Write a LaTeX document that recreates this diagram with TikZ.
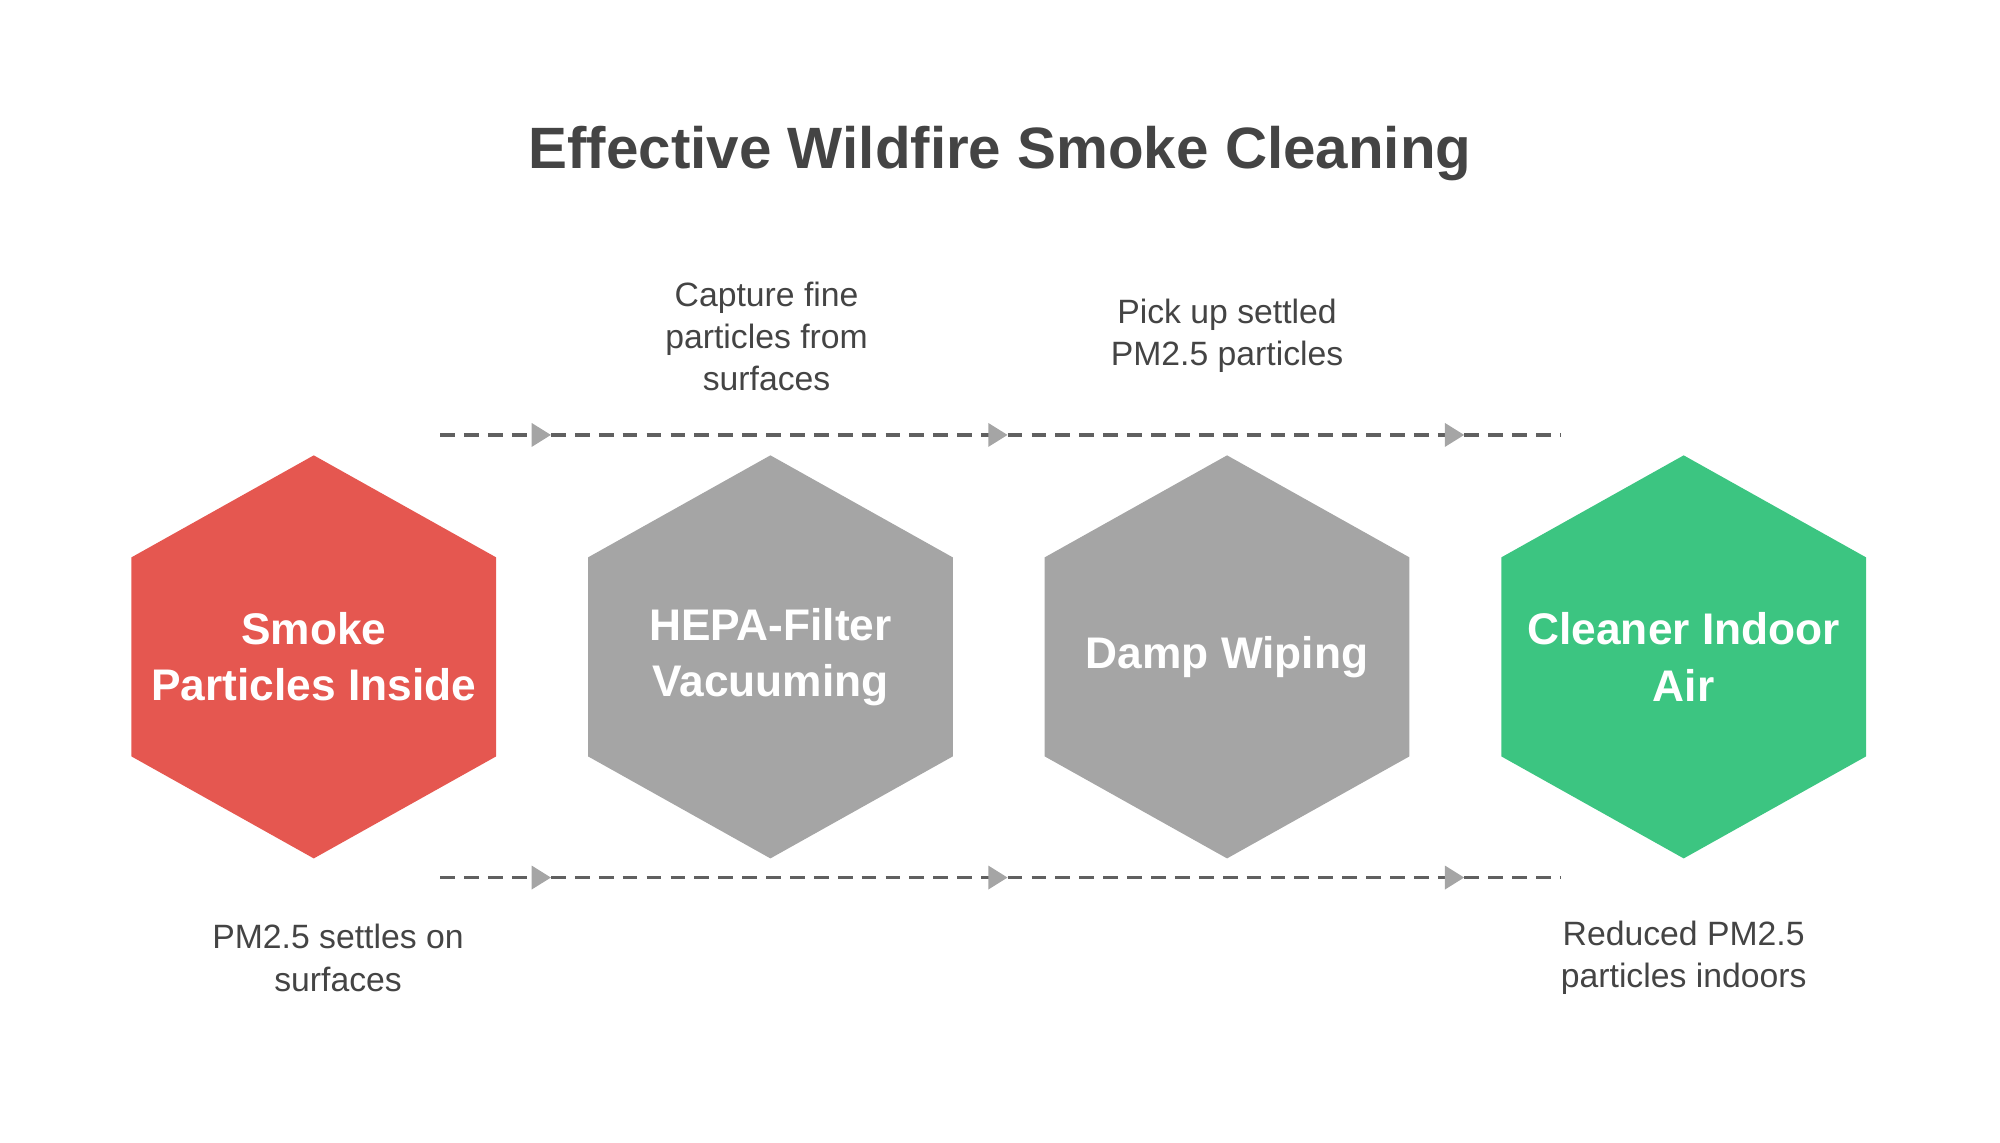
\documentclass[tikz,border=0pt]{standalone}
\usepackage{fontspec}
\setmainfont{Liberation Sans}
\usetikzlibrary{calc,arrows.meta}
\definecolor{smokered}{HTML}{E55750}
\definecolor{stepgray}{HTML}{A5A5A5}
\definecolor{cleangreen}{HTML}{3CC581}
\definecolor{txt}{HTML}{444444}
\tikzset{>=Stealth,
  hexa/.style={draw=none},
  hextext/.style={text=white,font=\bfseries\fontsize{12.6}{16}\selectfont,align=center},
  note/.style={text=txt,font=\fontsize{9.6}{12}\selectfont,align=center},
  flow/.style={draw=txt!85,line width=1.1pt,dash pattern=on 4.2pt off 2.6pt,
    -{Triangle[length=5.5pt,width=6.5pt,color=stepgray]}}}

\begin{document}
\begin{tikzpicture}[x=0.012755cm,y=-0.012755cm]
\useasboundingbox (0,0) rectangle (1568,896);
\node[text=txt,font=\bfseries\fontsize{16.6}{20}\selectfont] (title) at (784,120)
  {Effective Wildfire Smoke Cleaning};
% hexagons
\foreach \n/\x/\c in {1/246/smokered,2/604/stepgray,3/962/stepgray,4/1320/cleangreen}
  \fill[\c] (\x,357) -- (\x+143,437) -- (\x+143,593) -- (\x,673)
    -- (\x-143,593) -- (\x-143,437) -- cycle;
\node[hextext] (h1) at (246,515) {Smoke\\Particles Inside};
\node[hextext] (h2) at (604,515) {HEPA-Filter\\Vacuuming};
\node[hextext] (h3) at (962,515) {Damp Wiping};
\node[hextext] (h4) at (1320,515) {Cleaner Indoor\\Air};
% dashed flow lines
\foreach \r/\y in {t/341,b/688} {
  \coordinate (\r0) at (345,\y);
  \foreach \n/\x in {1/432,2/790,3/1148}
    \coordinate (\r\n) at (\x,\y);
  \coordinate (\r4) at (1224,\y);
  \draw[flow] (\r0) -- (\r1);
  \draw[flow] (\r1) -- (\r2);
  \draw[flow] (\r2) -- (\r3);
  \draw[flow,-] (\r3) -- (\r4);
}
% notes
\node[note] (n2) at (601,264) {Capture fine\\particles from\\surfaces};
\node[note] (n3) at (962,263) {Pick up settled\\PM2.5 particles};
\node[note] (n1) at (265,751) {PM2.5 settles on\\surfaces};
\node[note] (n4) at (1320,751) {Reduced PM2.5\\particles indoors};
\end{tikzpicture}
\end{document}
